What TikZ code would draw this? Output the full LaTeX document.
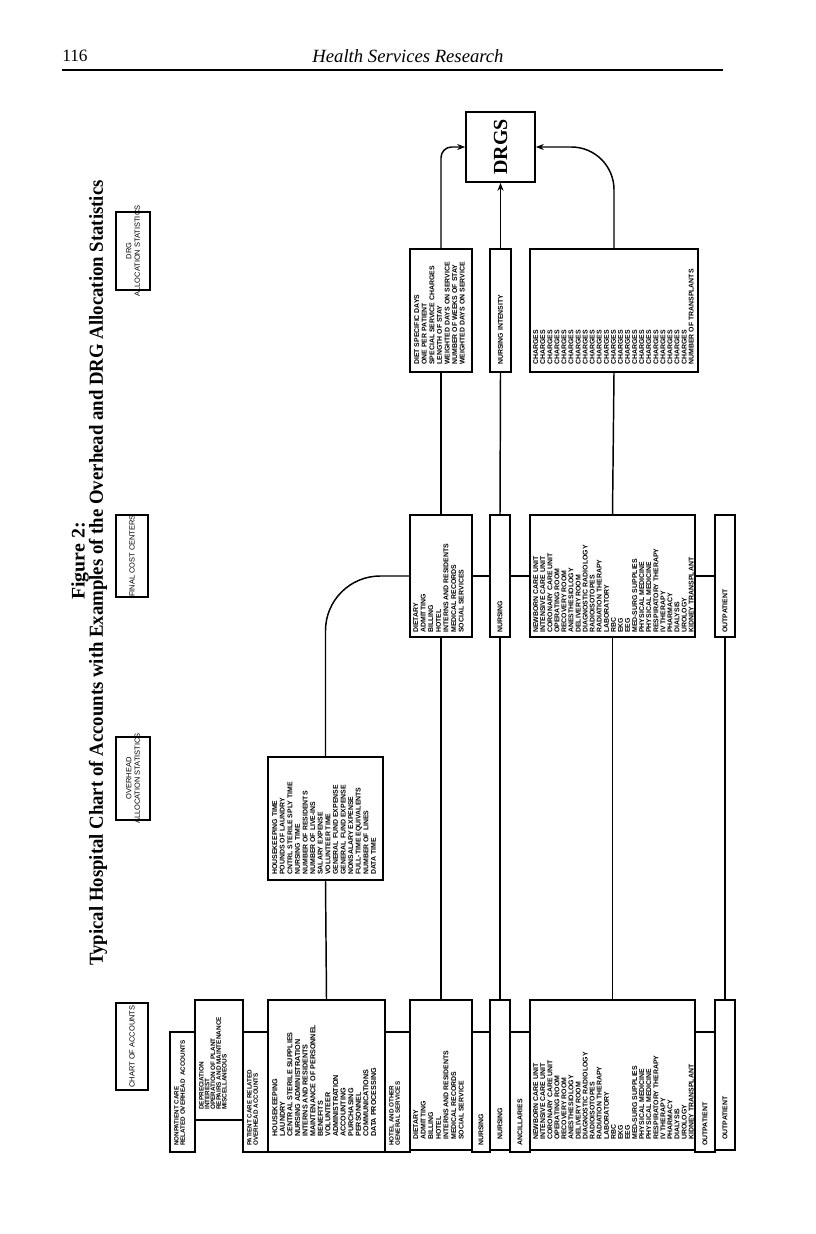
\documentclass[tikz,border=0pt]{standalone}
\usepackage{fontspec}
\setmainfont{Liberation Serif}
\newfontfamily\boxfont{Liberation Sans}
\usetikzlibrary{fit,arrows.meta}
\newcommand\ft[2]{\boxfont\bfseries\fontsize{#1}{#2}\selectfont}
\begin{document}
\begin{tikzpicture}[x=0.75pt,y=-0.75pt,
  box/.style={draw,line width=1.2pt,inner sep=0pt},
  txt/.style={rotate=90,anchor=north west,inner sep=0pt,align=left},
  txtc/.style={rotate=90,anchor=west,inner sep=0pt,font=\ft{5.2}{6}},
  hdr/.style={rotate=90,inner sep=0pt,align=center,font=\boxfont\fontsize{5.6}{6.4}\selectfont},
  conn/.style={line width=1.1pt},
  arr/.style={conn,-{Stealth[length=6pt,width=4.5pt]}}]
\useasboundingbox (0,0) rectangle (816,1234);

% page header
\node[anchor=west,inner sep=0pt,font=\fontsize{13}{15}\selectfont] (pgno) at (62,56) {116};
\node[inner sep=0pt,font=\itshape\fontsize{14}{16}\selectfont] (journal) at (408,56) {Health Services Research};
\draw[line width=2.2pt] (62,70) -- (723,70);

% title
\node[rotate=90,inner sep=0pt] (fig) at (80,561) {\resizebox{58pt}{10pt}{\bfseries Figure 2:}};
\node[rotate=90,inner sep=0pt] (title) at (98,573) {\resizebox{589pt}{10.5pt}{\bfseries Typical Hospital Chart of Accounts with Examples of the Overhead and DRG Allocation Statistics}};

% column headers
\node[box,fit={(116,1003) (148,1090)}] (hchart) {};
\node[hdr] at (hchart.center) {CHART OF ACCOUNTS};
\node[box,fit={(116,737) (150,820)}] (hover) {};
\node[hdr] at (hover.center) {OVERHEAD\\ALLOCATION STATISTICS};
\node[box,fit={(116,515) (148,597)}] (hfinal) {};
\node[hdr] at (hfinal.center) {FINAL COST CENTERS};
\node[box,fit={(116,212) (150,290)}] (hdrg) {};
\node[hdr] at (hdrg.center) {DRG\\ALLOCATION STATISTICS};

% chart of accounts column
\node[box,fit={(170,1032) (195,1152)}] (lnon) {};
\node[txt,font=\ft{4.7}{4.6}] at (174,1146) {NONPATIENT CARE\\RELATED OVERHEAD\ \ ACCOUNTS};
\node[box,fit={(195,1000) (243,1120)}] (ldep) {};
\node[txt,font=\ft{4.8}{4.3}] at (199,1110) {DEPRECIATION\\INTEREST\\OPERATION OF PLANT\\REPAIRS AND MAINTENANCE\\MISCELLANEOUS};
\node[box,fit={(243,1032) (268,1152)}] (lpat) {};
\node[txt,font=\ft{4.7}{4.6}] at (247,1146) {PATIENT CARE RELATED\\OVERHEAD ACCOUNTS};
\node[box,fit={(268,1000) (385,1152)}] (lhk) {};
\node[txt,font=\ft{5.4}{5.7}] at (272,1137) {HOUSEKEEPING\\LAUNDRY\\CENTRAL STERILE SUPPLIES\\NURSING ADMINISTRATION\\INTERNS AND RESIDENTS\\MAINTENANCE OF PERSONNEL\\BENEFITS\\VOLUNTEER\\ADMINISTRATION\\ACCOUNTING\\PURCHASING\\PERSONNEL\\COMMUNICATIONS\\DATA PROCESSING};
\node[box,fit={(385,1032) (410,1152)}] (lhot) {};
\node[txt,font=\ft{4.7}{4.6}] at (389,1146) {HOTEL AND OTHER\\GENERAL SERVICES};
\node[box,fit={(410,1000) (472,1150)}] (ldiet) {};
\node[txt,font=\ft{5.2}{5.7}] at (413,1140) {DIETARY\\ADMITTING\\BILLING\\HOTEL\\INTERNS AND RESIDENTS\\MEDICAL RECORDS\\SOCIAL SERVICE};
\node[box,fit={(472,1032) (490,1152)}] (lnurl) {};
\node[txtc] at (lnurl.center |- 0,1146) {NURSING};
\node[box,fit={(490,1000) (510,1150)}] (lnur) {};
\node[txtc] at (lnur.center |- 0,1140) {NURSING};
\node[box,fit={(510,1032) (530,1152)}] (lancl) {};
\node[txtc] at (lancl.center |- 0,1146) {ANCILLARIES};
\node[box,fit={(530,1000) (695,1150)}] (lanc) {};
\node[txt,font=\ft{5.2}{5.3}] at (533,1140) {NEWBORN CARE UNIT\\INTENSIVE CARE UNIT\\CORONARY CARE UNIT\\OPERATING ROOM\\RECOVERY ROOM\\ANESTHESIOLOGY\\DELIVERY ROOM\\DIAGNOSTIC RADIOLOGY\\RADIOISOTOPES\\RADIATION THERAPY\\LABORATORY\\RBC\\EKG\\EEG\\MED-SURG SUPPLIES\\PHYSICAL MEDICINE\\PHYSICAL MEDICINE\\RESPIRATORY THERAPY\\IV THERAPY\\PHARMACY\\DIALYSIS\\UROLOGY\\KIDNEY TRANSPLANT};
\node[box,fit={(695,1032) (715,1152)}] (loutl) {};
\node[txtc] at (loutl.center |- 0,1146) {OUTPATIENT};
\node[box,fit={(715,1000) (735,1150)}] (lout) {};
\node[txtc] at (lout.center |- 0,1140) {OUTPATIENT};

% overhead allocation statistics
\node[box,fit={(268,757) (383,880)}] (oh) {};
\node[txt,font=\ft{5.2}{5.7}] at (272,875) {HOUSEKEEPING TIME\\POUNDS OF LAUNDRY\\CNTRL STERILE SPLY TIME\\NURSING TIME\\NUMBER OF RESIDENTS\\NUMBER OF LIVE-INS\\SALARY EXPENSE\\VOLUNTEER TIME\\GENERAL FUND EXPENSE\\GENERAL FUND EXPENSE\\NONSALARY EXPENSE\\FULL-TIME EQUIVALENTS\\NUMBER OF LINES\\DATA TIME};

% final cost centers
\node[box,fit={(410,515) (472,637)}] (fdiet) {};
\node[txt,font=\ft{5.2}{5.7}] at (413,633) {DIETARY\\ADMITTING\\BILLING\\HOTEL\\INTERNS AND RESIDENTS\\MEDICAL RECORDS\\SOCIAL SERVICES};
\node[box,fit={(490,515) (510,637)}] (fnur) {};
\node[txtc] at (fnur.center |- 0,633) {NURSING};
\node[box,fit={(530,515) (695,637)}] (fanc) {};
\node[txt,font=\ft{5.2}{5.3}] at (533,633) {NEWBORN CARE UNIT\\INTENSIVE CARE UNIT\\CORONARY CARE UNIT\\OPERATING ROOM\\RECOVERY ROOM\\ANESTHESIOLOGY\\DELIVERY ROOM\\DIAGNOSTIC RADIOLOGY\\RADIOISOTOPES\\RADIATION THERAPY\\LABORATORY\\RBC\\EKG\\EEG\\MED-SURG SUPPLIES\\PHYSICAL MEDICINE\\PHYSICAL MEDICINE\\RESPIRATORY THERAPY\\IV THERAPY\\PHARMACY\\DIALYSIS\\UROLOGY\\KIDNEY TRANSPLANT};
\node[box,fit={(715,515) (735,637)}] (fout) {};
\node[txtc] at (fout.center |- 0,633) {OUTPATIENT};

% DRG allocation statistics
\node[box,fit={(410,249) (472,372)}] (sdiet) {};
\node[txt,font=\ft{5.2}{5.7}] at (414,365) {DIET SPECIFIC DAYS\\ONE PER PATIENT\\SPECIAL SERVICE CHARGES\\LENGTH OF STAY\\WEIGHTED DAYS ON SERVICE\\NUMBER OF WEEKS OF STAY\\WEIGHTED DAYS ON SERVICE};
\node[box,fit={(490,249) (511,372)}] (snur) {};
\node[txtc] at (snur.center |- 0,365) {NURSING INTENSITY};
\node[box,fit={(530,249) (698,372)}] (schg) {};
\node[txt,font=\ft{5.2}{5.3}] at (533,365) {CHARGES\\CHARGES\\CHARGES\\CHARGES\\CHARGES\\CHARGES\\CHARGES\\CHARGES\\CHARGES\\CHARGES\\CHARGES\\CHARGES\\CHARGES\\CHARGES\\CHARGES\\CHARGES\\CHARGES\\CHARGES\\CHARGES\\CHARGES\\CHARGES\\CHARGES\\NUMBER OF TRANSPLANTS};

% DRGS
\node[box,fit={(466,112) (535,182)}] (drgs) {};
\node[rotate=90,inner sep=0pt,font=\bfseries\fontsize{15}{17}\selectfont] at (drgs.center) {DRGS};

% connectors
\draw[conn] (lhk.north) -- (oh.south);
\draw[conn,rounded corners=41pt] (oh.north) |- (fdiet.west);
\draw[conn] (fdiet.south) -- (ldiet.north);
\draw[conn] (fnur.south) -- (lnur.north);
\draw[conn] (fanc.south) -- (lanc.north);
\draw[conn] (fout.south) -- (lout.north);
\draw[conn] (fdiet.east) -- (fnur.west);
\draw[conn] (fnur.east) -- (fanc.west);
\draw[conn] (fanc.east) -- (fout.west);
\draw[conn] (fdiet.north) -- (sdiet.south);
\draw[conn] (fnur.north) -- (snur.south);
\draw[conn] (fanc.north) -- (schg.south);
\draw[arr,rounded corners=8pt] (sdiet.north) |- (drgs.west);
\draw[arr] (snur.north) -- (drgs.south);
\draw[arr,rounded corners=32pt] (schg.north) |- (drgs.east);
\end{tikzpicture}
\end{document}
